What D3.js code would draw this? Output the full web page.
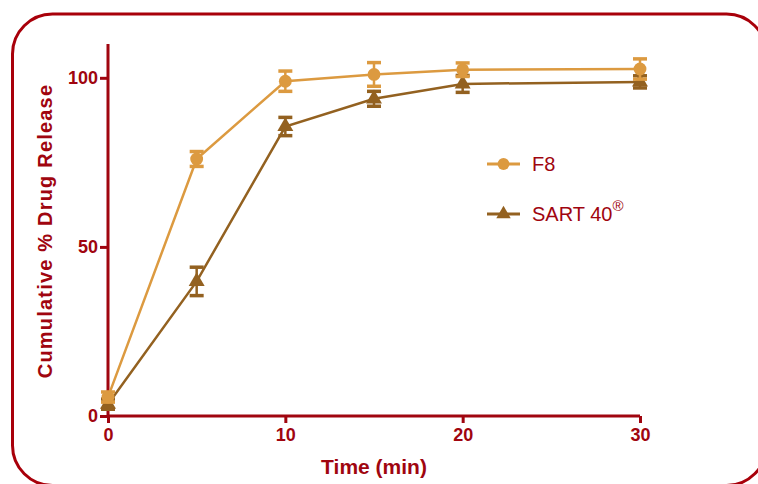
<!DOCTYPE html>
<html lang='en'>
<head>
	<meta charset='utf-8'>
	<script type='text/javascript' src='https://d3js.org/d3.v7.min.js'></script>
	<style type='text/css'>
		body { margin:0; background:#fff; }
		.tick-label { font-family:'Liberation Sans', Arial; font-weight:bold; font-size:18px; fill:#a0050f; }
		.axis-title { font-family:'Liberation Sans', Arial; font-weight:bold; fill:#a0050f; }
		.legend-text { font-family:'Liberation Sans', Arial; font-size:20px; fill:#a0050f; }
	</style>
</head>
<body>
	<div id='chart'></div>
	<script type='text/javascript'>
		// data
		var times = [0, 5, 10, 15, 20, 30];
		var f8Values = [5.6, 76, 99, 101, 102.4, 102.6];
		var f8Errors = [1.5, 2.2, 3.0, 3.5, 2.0, 3.0];
		var sartValues = [3.5, 39.8, 85.6, 93.8, 98.2, 98.8];
		var sartErrors = [1.5, 4.2, 2.7, 2.2, 2.5, 1.8];
		var xTicks = [0, 10, 20, 30];
		var yTicks = [0, 50, 100];
		var seriesNames = ['F8', 'SART 40'];

		var width = 758,
			height = 484;
		var axisColor = '#a0050f';
		var f8Color = '#dc9a40',
			sartColor = '#936120';

		var x = d3.scaleLinear().domain([0, 30]).range([108, 640]);
		var y = d3.scaleLinear().domain([0, 110]).range([416, 44]);

		var svg = d3.select('#chart')
			.append('svg')
			.attr('width', width)
			.attr('height', height);

		//rounded frame, bottom edge just below the window
		svg.append('rect')
			.attr('x', 12.5)
			.attr('y', 14)
			.attr('width', 754)
			.attr('height', 471.5)
			.attr('rx', 40)
			.attr('ry', 40)
			.style('fill', 'none')
			.style('stroke', '#a8000a')
			.style('stroke-width', 3);

		//axes
		var xAxis = svg.append('g')
			.attr('transform', 'translate(0,' + y(0) + ')')
			.call(d3.axisBottom(x).tickValues(xTicks).tickSize(7).tickPadding(5).tickFormat(d3.format('d')));
		var yAxis = svg.append('g')
			.attr('transform', 'translate(' + x(0) + ',0)')
			.call(d3.axisLeft(y).tickValues(yTicks).tickSize(8).tickPadding(2).tickFormat(d3.format('d')));

		[xAxis, yAxis].forEach(function(a){
			a.select('.domain').attr('stroke', axisColor).attr('stroke-width', 3);
			a.selectAll('.tick line').attr('stroke', axisColor).attr('stroke-width', 3);
			a.selectAll('.tick text').attr('class', 'tick-label').attr('fill', axisColor);
		});
		// remove the outer tick stub d3 draws on the domain path
		xAxis.select('.domain').attr('d', 'M' + x(0) + ',0H' + x(30));
		yAxis.select('.domain').attr('d', 'M0,' + y(110) + 'V' + y(0));

		//axis titles
		svg.append('text')
			.attr('class', 'axis-title')
			.attr('x', (x(0) + x(30)) / 2)
			.attr('y', 474)
			.attr('text-anchor', 'middle')
			.style('font-size', '21px')
			.text('Time (min)');
		svg.append('text')
			.attr('class', 'axis-title')
			.attr('transform', 'translate(52,' + 231 + ') rotate(-90)')
			.attr('text-anchor', 'middle')
			.style('font-size', '20px')
			.style('letter-spacing', '1.2px')
			.text('Cumulative % Drug Release');

		var series = [
			{ name: seriesNames[0], values: f8Values, errors: f8Errors, color: f8Color, shape: d3.symbolCircle },
			{ name: seriesNames[1], values: sartValues, errors: sartErrors, color: sartColor, shape: d3.symbolTriangle }
		];

		var line = d3.line()
			.x(function(d){ return x(d.t); })
			.y(function(d){ return y(d.v); });

		// draw SART first, F8 on top
		series.slice().reverse().forEach(function(s){
			var pts = times.map(function(t, i){ return { t: t, v: s.values[i], e: s.errors[i] }; });
			var g = svg.append('g');

			g.append('path')
				.datum(pts)
				.attr('d', line)
				.style('fill', 'none')
				.style('stroke', s.color)
				.style('stroke-width', 2.5);

			var eb = g.selectAll('.err')
				.data(pts)
				.enter()
				.append('g');
			eb.append('line')
				.attr('x1', function(d){ return x(d.t); })
				.attr('x2', function(d){ return x(d.t); })
				.attr('y1', function(d){ return y(d.v + d.e); })
				.attr('y2', function(d){ return y(d.v - d.e); })
				.style('stroke', s.color)
				.style('stroke-width', 2.5);
			[1, -1].forEach(function(sign){
				eb.append('line')
					.attr('x1', function(d){ return x(d.t) - 7; })
					.attr('x2', function(d){ return x(d.t) + 7; })
					.attr('y1', function(d){ return y(d.v + sign * d.e); })
					.attr('y2', function(d){ return y(d.v + sign * d.e); })
					.style('stroke', s.color)
					.style('stroke-width', 3.5);
			});

			g.selectAll('.marker')
				.data(pts)
				.enter()
				.append('path')
				.attr('transform', function(d){ return 'translate(' + x(d.t) + ',' + y(d.v) + ')'; })
				.attr('d', d3.symbol().type(s.shape).size(s.shape === d3.symbolCircle ? 130 : 110))
				.style('fill', s.color);
		});

		//legend
		var legend = svg.append('g').attr('class', 'legend');
		series.forEach(function(s, i){
			var ly = 164 + i * 50;
			legend.append('line')
				.attr('x1', 487).attr('x2', 520)
				.attr('y1', ly).attr('y2', ly)
				.style('stroke', s.color)
				.style('stroke-width', 3);
			legend.append('path')
				.attr('transform', 'translate(503.5,' + ly + ')')
				.attr('d', d3.symbol().type(s.shape).size(s.shape === d3.symbolCircle ? 110 : 90))
				.style('fill', s.color);
			var t = legend.append('text')
				.attr('class', 'legend-text')
				.attr('x', 532)
				.attr('y', ly + 7)
				.text(s.name);
			if (i === 1) {
				t.append('tspan')
					.attr('dy', -10)
					.style('font-size', '15px')
					.text('\u00AE');
			}
		});
	</script>
</body>
</html>
